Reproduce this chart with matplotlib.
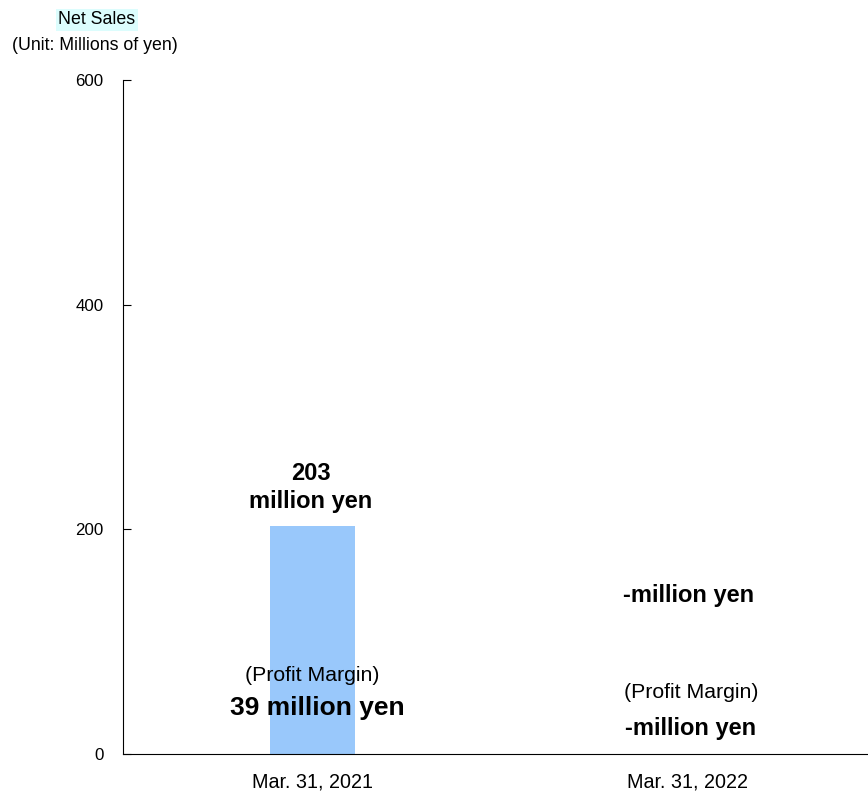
import matplotlib.pyplot as plt

plt.rcParams['font.family'] = ['Liberation Sans', 'DejaVu Sans']

categories = ['Mar. 31, 2021', 'Mar. 31, 2022']
net_sales = [203, None]
profit = [39, None]
yticks = [0, 200, 400, 600]

fig = plt.figure(figsize=(8.68, 7.95), dpi=100)
ax = fig.add_axes([0.1417, 0.0516, 0.8583, 0.8478])

x = list(range(len(categories)))
heights = [v if v is not None else 0 for v in net_sales]
ax.bar(x, heights, width=0.227, color='#99c8fb')

for i, v in enumerate(net_sales):
    if v is not None:
        ax.text(i - 0.005, v + 47, str(v), ha='center', va='center', fontsize=17, fontweight='bold')
        ax.text(i - 0.005, v + 22, 'million yen', ha='center', va='center', fontsize=17, fontweight='bold')
    else:
        ax.text(i + 0.003, 141.5, '-million yen', ha='center', va='center', fontsize=17, fontweight='bold')

for i, v in enumerate(profit):
    if v is not None:
        ax.text(i, 70, '(Profit Margin)', ha='center', va='center', fontsize=15.3)
        ax.text(i + 0.013, 41, f'{v} million yen', ha='center', va='center', fontsize=19, fontweight='bold')
    else:
        ax.text(i + 0.01, 55, '(Profit Margin)', ha='center', va='center', fontsize=15.3)
        ax.text(i + 0.01, 23, '-million yen', ha='center', va='center', fontsize=17, fontweight='bold')

ax.set_xlim(-0.506, 1.483)
ax.set_ylim(0, 600)
ax.set_yticks(yticks)
ax.set_xticks(x)
ax.set_xticklabels(categories, fontsize=14.2)
ax.tick_params(axis='x', length=0, pad=13)
ax.tick_params(axis='y', direction='in', length=6, labelsize=12.2, pad=14)
ax.spines['top'].set_visible(False)
ax.spines['right'].set_visible(False)

fig.text(97 / 868, 1 - 20 / 795, 'Net Sales', ha='center', va='center', fontsize=12.8,
         bbox=dict(facecolor='#dcfdfd', edgecolor='none', pad=2))
fig.text(95 / 868, 1 - 45 / 795, '(Unit: Millions of yen)', ha='center', va='center', fontsize=12.8)

fig.savefig('out.png', dpi=100)
